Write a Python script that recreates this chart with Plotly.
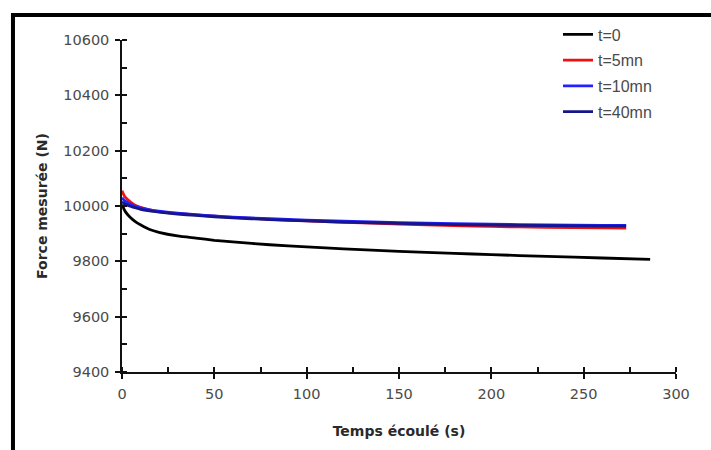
import plotly.graph_objects as go

# ---- data ----
t0_time = [0, 1, 2, 4, 6, 8, 10, 15, 20, 30, 40, 50, 60, 80, 100, 120, 150, 180, 200, 230, 260, 286]
t0_force = [10005, 9990, 9978, 9962, 9950, 9940, 9932, 9915, 9905, 9892, 9884, 9876, 9870, 9860, 9852, 9845, 9836, 9829, 9824, 9818, 9812, 9807]

t5_time = [0, 1, 2, 4, 6, 8, 10, 15, 20, 30, 40, 50, 60, 80, 100, 120, 150, 180, 200, 230, 260, 273]
t5_force = [10055, 10040, 10030, 10018, 10008, 10000, 9995, 9986, 9980, 9973, 9968, 9963, 9959, 9952, 9946, 9941, 9935, 9929, 9926, 9923, 9921, 9920]

t10_time = [0, 1, 2, 4, 6, 8, 10, 15, 20, 30, 40, 50, 60, 80, 100, 120, 150, 180, 200, 230, 260, 273]
t10_force = [10030, 10022, 10017, 10008, 10002, 9997, 9993, 9986, 9981, 9974, 9969, 9964, 9960, 9954, 9949, 9945, 9940, 9936, 9934, 9932, 9930, 9930]

t40_time = [0, 1, 2, 4, 6, 8, 10, 15, 20, 30, 40, 50, 60, 80, 100, 120, 150, 180, 200, 230, 260, 273]
t40_force = [10015, 10010, 10006, 10000, 9996, 9992, 9988, 9982, 9978, 9971, 9966, 9961, 9957, 9951, 9946, 9942, 9937, 9933, 9931, 9929, 9927, 9927]

series_names = ["t=0", "t=5mn", "t=10mn", "t=40mn"]
series_colors = ["#000000", "#ee1111", "#2222ff", "#16168a"]

x_ticks = [0, 50, 100, 150, 200, 250, 300]
y_ticks = [9400, 9600, 9800, 10000, 10200, 10400, 10600]

times = [t0_time, t5_time, t10_time, t40_time]
forces = [t0_force, t5_force, t10_force, t40_force]

fig = go.Figure()
for i, (name, col, xs, ys) in enumerate(zip(series_names, series_colors, times, forces)):
    fig.add_trace(go.Scatter(
        x=xs, y=ys, mode="lines", name=name,
        line=dict(color=col, width=2.8, shape="spline", smoothing=0.6),
        legendgroup=f"g{i}",
    ))

# overlay axes for inside part of major ticks
fig.add_trace(go.Scatter(x=[None], y=[None], xaxis="x2", yaxis="y2", showlegend=False, hoverinfo="skip"))

tickfont = dict(family="DejaVu Sans, sans-serif", size=14.5, color="#4a4a4a")
titlefont = dict(family="DejaVu Sans, sans-serif", size=14, color="#2a2a2a")

fig.update_layout(
    width=711, height=450,
    margin=dict(l=122, r=35, t=40, b=78),
    paper_bgcolor="white", plot_bgcolor="white",
    showlegend=True,
    legend=dict(
        x=0.787, y=1.068, xanchor="left", yanchor="top",
        bgcolor="rgba(0,0,0,0)",
        font=dict(family="Liberation Sans, Arial, sans-serif", size=16, color="#4a4a4a"),
        itemwidth=30, tracegroupgap=2, traceorder="grouped",
    ),
    xaxis=dict(
        range=[0, 300], tickvals=x_ticks, ticktext=[str(v) for v in x_ticks],
        showgrid=False, zeroline=False, showline=True, linecolor="#111", linewidth=1.5,
        ticks="outside", ticklen=5, tickwidth=1.5, tickcolor="#111",
        minor=dict(dtick=25, ticks="inside", ticklen=5, tickwidth=1.5, tickcolor="#111", showgrid=False),
        tickfont=tickfont, ticklabelstandoff=3,
        title=dict(text="<b>Temps écoulé (s)</b>", font=titlefont, standoff=25),
    ),
    yaxis=dict(
        range=[9400, 10600], tickvals=y_ticks, ticktext=[str(v) for v in y_ticks],
        showgrid=False, zeroline=False, showline=True, linecolor="#111", linewidth=1.5,
        ticks="outside", ticklen=5, tickwidth=1.5, tickcolor="#111",
        minor=dict(dtick=100, ticks="inside", ticklen=5, tickwidth=1.5, tickcolor="#111", showgrid=False),
        tickfont=tickfont, ticklabelstandoff=3,
        title=dict(text="<b>Force mesurée (N)</b>", font=titlefont, standoff=12),
    ),
    xaxis2=dict(
        range=[0, 300], overlaying="x", anchor="y2", side="bottom", tickvals=x_ticks,
        showticklabels=False, ticks="inside", ticklen=5, tickwidth=1.5, tickcolor="#111",
        showgrid=False, zeroline=False, showline=False,
    ),
    yaxis2=dict(
        range=[9400, 10600], overlaying="y", anchor="x2", side="left", tickvals=y_ticks,
        showticklabels=False, ticks="inside", ticklen=5, tickwidth=1.5, tickcolor="#111",
        showgrid=False, zeroline=False, showline=False,
    ),
)

# outer black frame (top and left edges visible; extends off-image)
fig.add_shape(type="rect", xref="paper", yref="paper",
              x0=-0.1968, x1=1.5, y0=-0.6, y1=1.0753,
              line=dict(color="black", width=4), fillcolor="rgba(0,0,0,0)", layer="above")

fig.write_html("out.html")
